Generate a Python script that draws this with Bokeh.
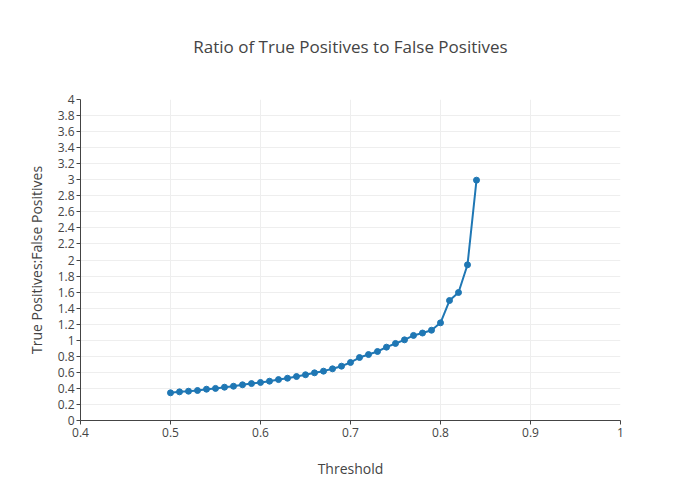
from bokeh.plotting import figure
from bokeh.models import FixedTicker, Range1d, Title
from bokeh.embed import file_html
from bokeh.resources import INLINE

threshold = [0.50, 0.51, 0.52, 0.53, 0.54, 0.55, 0.56, 0.57, 0.58, 0.59,
             0.60, 0.61, 0.62, 0.63, 0.64, 0.65, 0.66, 0.67, 0.68, 0.69,
             0.70, 0.71, 0.72, 0.73, 0.74, 0.75, 0.76, 0.77, 0.78, 0.79,
             0.80, 0.81, 0.82, 0.83, 0.84]
ratio = [0.345, 0.357, 0.365, 0.374, 0.39, 0.40, 0.415, 0.427, 0.445, 0.46,
         0.474, 0.49, 0.51, 0.527, 0.548, 0.57, 0.594, 0.615, 0.644, 0.677,
         0.723, 0.785, 0.822, 0.86, 0.914, 0.96, 1.005, 1.06, 1.09, 1.125,
         1.217, 1.495, 1.595, 1.94, 2.995]
x_ticks = [0.4, 0.5, 0.6, 0.7, 0.8, 0.9, 1.0]
y_ticks = [round(0.2 * i, 1) for i in range(21)]
title_text = "Ratio of True Positives to False Positives"

FONT = "Open Sans"
GREY = "#444444"

p = figure(width=684, height=484, output_backend="svg", toolbar_location=None,
           x_range=Range1d(0.4, 1.0), y_range=Range1d(0, 4),
           min_border_left=80, min_border_right=64, min_border_top=99,
           min_border_bottom=64)
p.title = None
p.outline_line_color = None
p.background_fill_color = "white"
p.border_fill_color = "white"

# spacer between the frame and the title (closest to the frame)
spacer = Title(text=" ", text_font=FONT, text_font_size="17px", standoff=17)
p.add_layout(spacer, "above")
main_title = Title(text=title_text, align="center", text_font=FONT,
                   text_font_size="17px", text_font_style="normal",
                   text_color=GREY, standoff=0)
p.add_layout(main_title, "above")

p.xaxis.ticker = FixedTicker(ticks=x_ticks)
p.yaxis.ticker = FixedTicker(ticks=y_ticks)
p.xaxis.major_label_overrides = {0.4: "0.4", 0.5: "0.5", 0.6: "0.6", 0.7: "0.7",
                                 0.8: "0.8", 0.9: "0.9", 1.0: "1"}
p.yaxis.major_label_overrides = {t: ("%g" % t) for t in y_ticks}

for ax in (p.xaxis, p.yaxis):
    ax.axis_line_color = GREY
    ax.axis_line_width = 1
    ax.major_tick_line_color = GREY
    ax.major_tick_in = 0
    ax.major_tick_out = 4
    ax.minor_tick_line_color = None
    ax.major_label_text_font = FONT
    ax.major_label_text_font_size = "12px"
    ax.major_label_text_color = GREY
    ax.axis_label_text_font = FONT
    ax.axis_label_text_font_size = "14px"
    ax.axis_label_text_color = GREY
    ax.axis_label_text_font_style = "normal"

p.xaxis.axis_label = "Threshold"
p.yaxis.axis_label = "True Positives:False Positives"
p.xaxis.major_label_standoff = 3
p.yaxis.major_label_standoff = 2
p.xaxis.axis_label_standoff = 19
p.yaxis.axis_label_standoff = 9

p.xgrid.grid_line_color = "#eeeeee"
p.ygrid.grid_line_color = "#eeeeee"
p.xgrid.grid_line_width = 1
p.ygrid.grid_line_width = 1

p.line(threshold, ratio, line_color="#1f77b4", line_width=2)
p.scatter(threshold, ratio, size=6, fill_color="#1f77b4", line_color="#1f77b4")

open("out.html", "w").write(file_html(p, INLINE))
